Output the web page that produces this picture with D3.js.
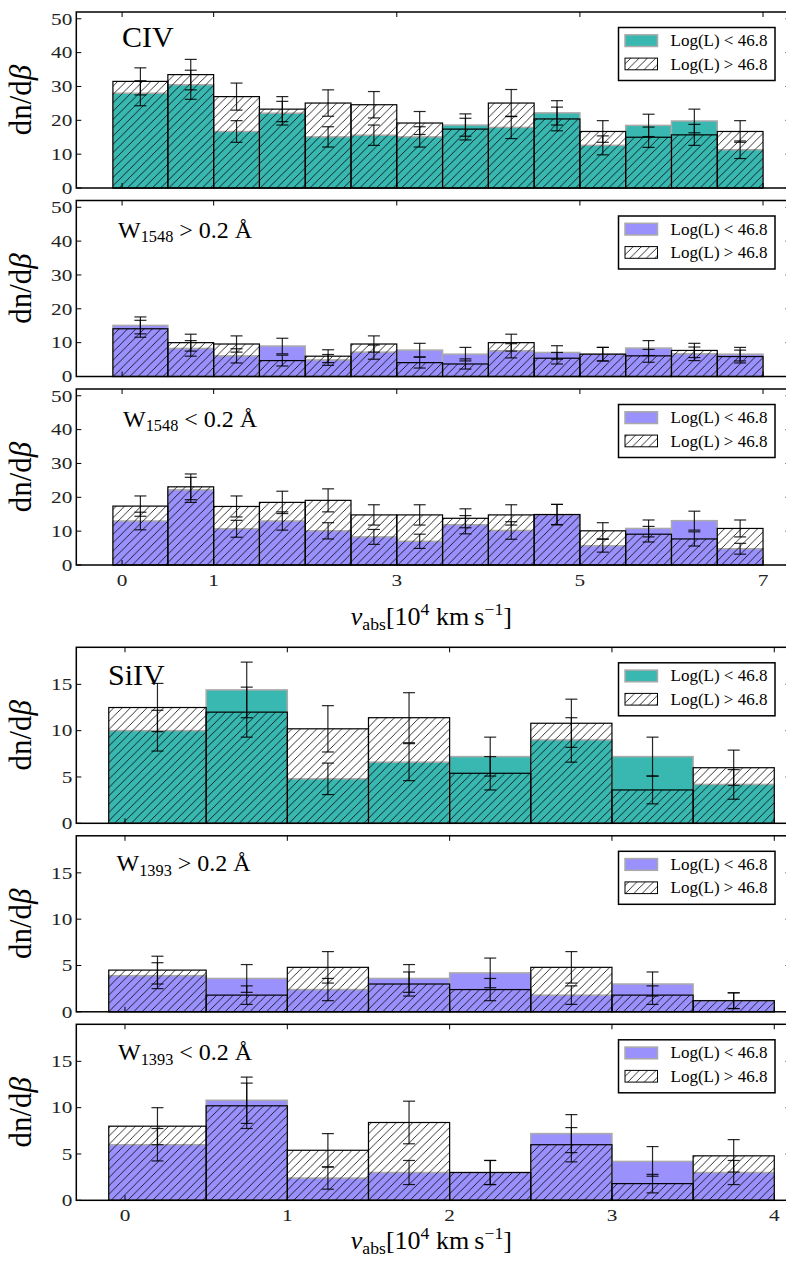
<!DOCTYPE html>
<html><head><meta charset="utf-8">
<script src="https://cdn.jsdelivr.net/npm/d3@7"></script>
<style>
body{margin:0;background:#fff;}
svg{display:block;}
svg text{font-family:"Liberation Serif","DejaVu Serif",serif;}
</style></head><body>
<svg id="chart" width="786" height="1261"></svg>
<script>
// ---------------- DATA ----------------
const civEdges  = [-0.1,0.5,1.0,1.5,2.0,2.5,3.0,3.5,4.0,4.5,5.0,5.5,6.0,6.5,7.0];
const siivEdges = [-0.1,0.5,1.0,1.5,2.0,2.5,3.0,3.5,4.0];
const civXTicks  = [0,1,3,5,7];
const civYTicks  = [0,10,20,30,40,50];
const siivXTicks = [0,1,2,3,4];
const siivYTicks = [0,5,10,15];
const legendLabels = ["Log(L) < 46.8","Log(L) > 46.8"];

// CIV, all
const civAllLow      = [28.0,30.5,16.7,22.1,15.1,15.6,15.1,18.6,17.9,22.2,12.6,18.5,19.8,11.3];
const civAllLowErr   = [3.7,4.3,3.2,3.5,3.0,3.0,3.0,3.3,3.3,3.6,2.8,3.3,3.5,2.6];
const civAllHigh     = [31.5,33.5,27.0,23.3,25.1,24.6,19.2,17.4,25.1,20.4,16.7,15.0,15.7,16.7];
const civAllHighErr  = [4.0,4.5,4.0,3.7,3.9,3.9,3.4,3.2,4.0,3.5,3.2,3.0,3.1,3.2];
// CIV, W1548 > 0.2
const civStrLow      = [15.1,8.3,6.1,9.0,4.9,7.2,7.8,6.6,7.6,7.1,6.6,8.4,6.7,6.6];
const civStrLowErr   = [2.5,2.3,2.1,2.3,1.6,2.1,2.0,2.0,2.1,2.0,2.0,2.2,2.0,2.0];
const civStrHigh     = [14.1,10.0,9.6,4.7,6.0,9.6,4.1,3.7,10.0,5.4,6.6,6.1,7.7,5.9];
const civStrHighErr  = [2.5,2.5,2.4,1.6,1.9,2.4,1.6,1.5,2.5,1.7,2.0,1.9,2.1,1.9];
// CIV, W1548 < 0.2
const civWeakLow     = [13.0,22.2,10.7,13.0,10.1,8.3,7.0,11.9,10.2,14.9,5.7,10.8,13.1,4.8];
const civWeakLowErr  = [2.6,3.7,2.5,2.7,2.4,2.2,2.1,2.7,2.6,3.0,1.9,2.5,2.8,1.6];
const civWeakHigh    = [17.4,23.1,17.3,18.5,19.1,14.8,14.8,13.8,14.8,14.9,10.1,9.1,7.7,10.8];
const civWeakHighErr = [3.0,3.8,3.1,3.3,3.4,3.0,3.0,2.8,3.0,3.0,2.4,2.3,2.1,2.5];
// SiIV, all
const siAllLow       = [10.0,14.4,4.8,6.6,7.2,9.0,7.2,4.2];
const siAllLowErr    = [2.2,3.0,1.7,2.0,2.1,2.4,2.1,1.6];
const siAllHigh      = [12.5,12.0,10.2,11.4,5.4,10.8,3.6,6.0];
const siAllHighErr   = [2.6,2.7,2.5,2.7,1.8,2.6,1.5,1.9];
// SiIV, W1393 > 0.2
const siStrLow       = [3.9,3.6,2.4,3.6,4.2,1.8,3.0,1.2];
const siStrLowErr    = [1.4,1.5,1.2,1.5,1.6,1.0,1.3,0.85];
const siStrHigh      = [4.5,1.8,4.8,3.0,2.4,4.8,1.8,1.2];
const siStrHighErr   = [1.5,1.0,1.7,1.3,1.2,1.7,1.0,0.85];
// SiIV, W1393 < 0.2
const siWeakLow      = [6.0,10.8,2.4,3.0,3.0,7.2,4.2,3.0];
const siWeakLowErr   = [1.75,2.5,1.2,1.3,1.3,2.05,1.6,1.3];
const siWeakHigh     = [8.0,10.2,5.4,8.4,3.0,6.0,1.8,4.8];
const siWeakHighErr  = [2.0,2.45,1.8,2.3,1.3,1.85,1.0,1.75];

// ---------------- STYLE / LAYOUT ----------------
const TEAL = "#38b8b0", PURPLE = "#9b91fd";
const AX_L = 76.3, AX_R = 790.5, PH = 176, PITCH = 188.5;
const groups = [
  {top:12,    edges:civEdges,  xDom:[-0.5,7.3], yDom:[0,52], xTicks:civXTicks,  yTicks:civYTicks,  xlabBase:625},
  {top:647.3, edges:siivEdges, xDom:[-0.3,4.1], yDom:[0,19], xTicks:siivXTicks, yTicks:siivYTicks, xlabBase:1249}
];
const panels = [
  {g:0,i:0,low:civAllLow, lowErr:civAllLowErr, high:civAllHigh, highErr:civAllHighErr, color:TEAL,
   label:[{t:"CIV"}], lx:122, ly:35, ls:30},
  {g:0,i:1,low:civStrLow, lowErr:civStrLowErr, high:civStrHigh, highErr:civStrHighErr, color:PURPLE,
   label:[{t:"W"},{t:"1548",sub:true},{t:" > 0.2 Å"}], lx:118, ly:37, ls:24},
  {g:0,i:2,low:civWeakLow, lowErr:civWeakLowErr, high:civWeakHigh, highErr:civWeakHighErr, color:PURPLE,
   label:[{t:"W"},{t:"1548",sub:true},{t:" < 0.2 Å"}], lx:123, ly:37.5, ls:24},
  {g:1,i:0,low:siAllLow, lowErr:siAllLowErr, high:siAllHigh, highErr:siAllHighErr, color:TEAL,
   label:[{t:"SiIV"}], lx:108, ly:37.5, ls:30},
  {g:1,i:1,low:siStrLow, lowErr:siStrLowErr, high:siStrHigh, highErr:siStrHighErr, color:PURPLE,
   label:[{t:"W"},{t:"1393",sub:true},{t:" > 0.2 Å"}], lx:116.5, ly:35.5, ls:24},
  {g:1,i:2,low:siWeakLow, lowErr:siWeakLowErr, high:siWeakHigh, highErr:siWeakHighErr, color:PURPLE,
   label:[{t:"W"},{t:"1393",sub:true},{t:" < 0.2 Å"}], lx:118, ly:35.5, ls:24}
];

const svg = d3.select("#chart");
const defs = svg.append("defs");
const HP = 8.3;
defs.append("pattern").attr("id","hatch").attr("patternUnits","userSpaceOnUse")
  .attr("width",HP).attr("height",HP)
  .append("path")
  .attr("d",`M-1,1 L1,-1 M0,${HP} L${HP},0 M${HP-1},${HP+1} L${HP+1},${HP-1}`)
  .attr("stroke","#000").attr("stroke-width",0.8).attr("fill","none");

function richText(parent, x, y, parts, size, anchor){
  const t = parent.append("text").attr("x",x).attr("y",y)
    .attr("font-size",size).attr("text-anchor",anchor||"start").attr("fill","#000");
  let shift = 0;
  parts.forEach(p=>{
    const target = p.sub ? size*0.2 : (p.sup ? -size*0.38 : 0);
    const ts = t.append("tspan").text(p.t).attr("dy", target-shift);
    shift = target;
    if(p.sub||p.sup) ts.attr("font-size", size*(p.scale||0.68));
    if(p.italic) ts.attr("font-style","italic");
  });
  return t;
}

panels.forEach(p=>{
  const G = groups[p.g];
  const top = G.top + p.i*PITCH, bottom = top + PH;
  const x = d3.scaleLinear().domain(G.xDom).range([AX_L, AX_R]);
  const y = d3.scaleLinear().domain(G.yDom).range([bottom, top]);
  const g = svg.append("g");
  const bins = G.edges.slice(0,-1).map((e,k)=>({x0:e, x1:G.edges[k+1], k}));

  // low-luminosity filled bars
  g.selectAll("rect.low").data(bins).join("rect").attr("class","low")
    .attr("x",d=>x(d.x0)).attr("width",d=>x(d.x1)-x(d.x0))
    .attr("y",d=>y(p.low[d.k])).attr("height",d=>y(0)-y(p.low[d.k]))
    .attr("fill",p.color).attr("stroke","#aaaaaa").attr("stroke-width",1.5);
  // high-luminosity hatched bars
  g.selectAll("rect.high").data(bins).join("rect").attr("class","high")
    .attr("x",d=>x(d.x0)).attr("width",d=>x(d.x1)-x(d.x0))
    .attr("y",d=>y(p.high[d.k])).attr("height",d=>y(0)-y(p.high[d.k]))
    .attr("fill","url(#hatch)").attr("stroke","#000").attr("stroke-width",1.2);

  // error bars
  const errs = [];
  bins.forEach(d=>{
    const cx = (d.x0+d.x1)/2;
    errs.push({cx, v:p.high[d.k], e:p.highErr[d.k]});
    errs.push({cx, v:p.low[d.k], e:p.lowErr[d.k]});
  });
  const eg = g.append("g").attr("stroke","#000").attr("stroke-width",1.2).attr("stroke-opacity",0.85);
  errs.forEach(d=>{
    const X = x(d.cx), y1 = y(d.v-d.e), y2 = y(d.v+d.e);
    eg.append("line").attr("x1",X).attr("x2",X).attr("y1",y1).attr("y2",y2);
    eg.append("line").attr("x1",X-6).attr("x2",X+6).attr("y1",y1).attr("y2",y1);
    eg.append("line").attr("x1",X-6).attr("x2",X+6).attr("y1",y2).attr("y2",y2);
  });

  // frame
  g.append("rect").attr("x",AX_L).attr("y",top).attr("width",AX_R-AX_L).attr("height",PH)
    .attr("fill","none").attr("stroke","#000").attr("stroke-width",1.5);
  // ticks
  const tg = g.append("g").attr("stroke","#000").attr("stroke-width",1);
  G.xTicks.forEach(v=>{
    tg.append("line").attr("x1",x(v)).attr("x2",x(v)).attr("y1",bottom).attr("y2",bottom-5);
    tg.append("line").attr("x1",x(v)).attr("x2",x(v)).attr("y1",top).attr("y2",top+5);
  });
  G.yTicks.forEach(v=>{
    tg.append("line").attr("x1",AX_L).attr("x2",AX_L+5).attr("y1",y(v)).attr("y2",y(v));
    tg.append("line").attr("x1",AX_R).attr("x2",AX_R-5).attr("y1",y(v)).attr("y2",y(v));
  });
  // y tick labels
  G.yTicks.forEach(v=>{
    g.append("text").attr("transform",`translate(${AX_L-4},${y(v)}) scale(1.25,1)`)
      .attr("text-anchor","end").attr("dominant-baseline","central")
      .attr("font-size",17).attr("fill","#222").text(v);
  });
  // x tick labels (bottom panel of group)
  if(p.i===2){
    G.xTicks.forEach(v=>{
      g.append("text").attr("transform",`translate(${x(v)},${bottom+21}) scale(1.25,1)`)
        .attr("text-anchor","middle").attr("font-size",17).attr("fill","#222").text(v);
    });
    richText(g, (AX_L+AX_R)/2 - 2, G.xlabBase,
      [{t:"v",italic:true},{t:"abs",sub:true},{t:"[10"},{t:"4",sup:true},{t:" km\u2009s"},{t:"\u22121",sup:true},{t:"]"}],
      26, "middle");
  }
  // y label
  const yl = g.append("g").attr("transform",`translate(31,${(top+bottom)/2}) rotate(-90)`);
  richText(yl, 0, 0, [{t:"dn/d"},{t:"β",italic:true}], 31, "middle");

  // panel label
  richText(g, p.lx, top + p.ly, p.label, p.ls, "start");

  // legend
  const lx = 618.5, ly = top + 15.5;
  const lg = g.append("g");
  lg.append("rect").attr("x",lx).attr("y",ly).attr("width",156.5).attr("height",53)
    .attr("fill","#fff").attr("stroke","#000").attr("stroke-width",1.5);
  lg.append("rect").attr("x",lx+6.5).attr("y",ly+7.3).attr("width",32.5).attr("height",11.7)
    .attr("fill",p.color).attr("stroke","#aaaaaa").attr("stroke-width",1.5);
  lg.append("rect").attr("x",lx+6.5).attr("y",ly+30.6).attr("width",32.5).attr("height",11.7)
    .attr("fill","url(#hatch)").attr("stroke","#000").attr("stroke-width",1);
  legendLabels.forEach((s,k)=>{
    lg.append("text").attr("x",lx+52).attr("y",ly+18.5+k*23.5)
      .attr("font-size",17).attr("fill","#000").text(s);
  });
});
</script>
</body></html>
